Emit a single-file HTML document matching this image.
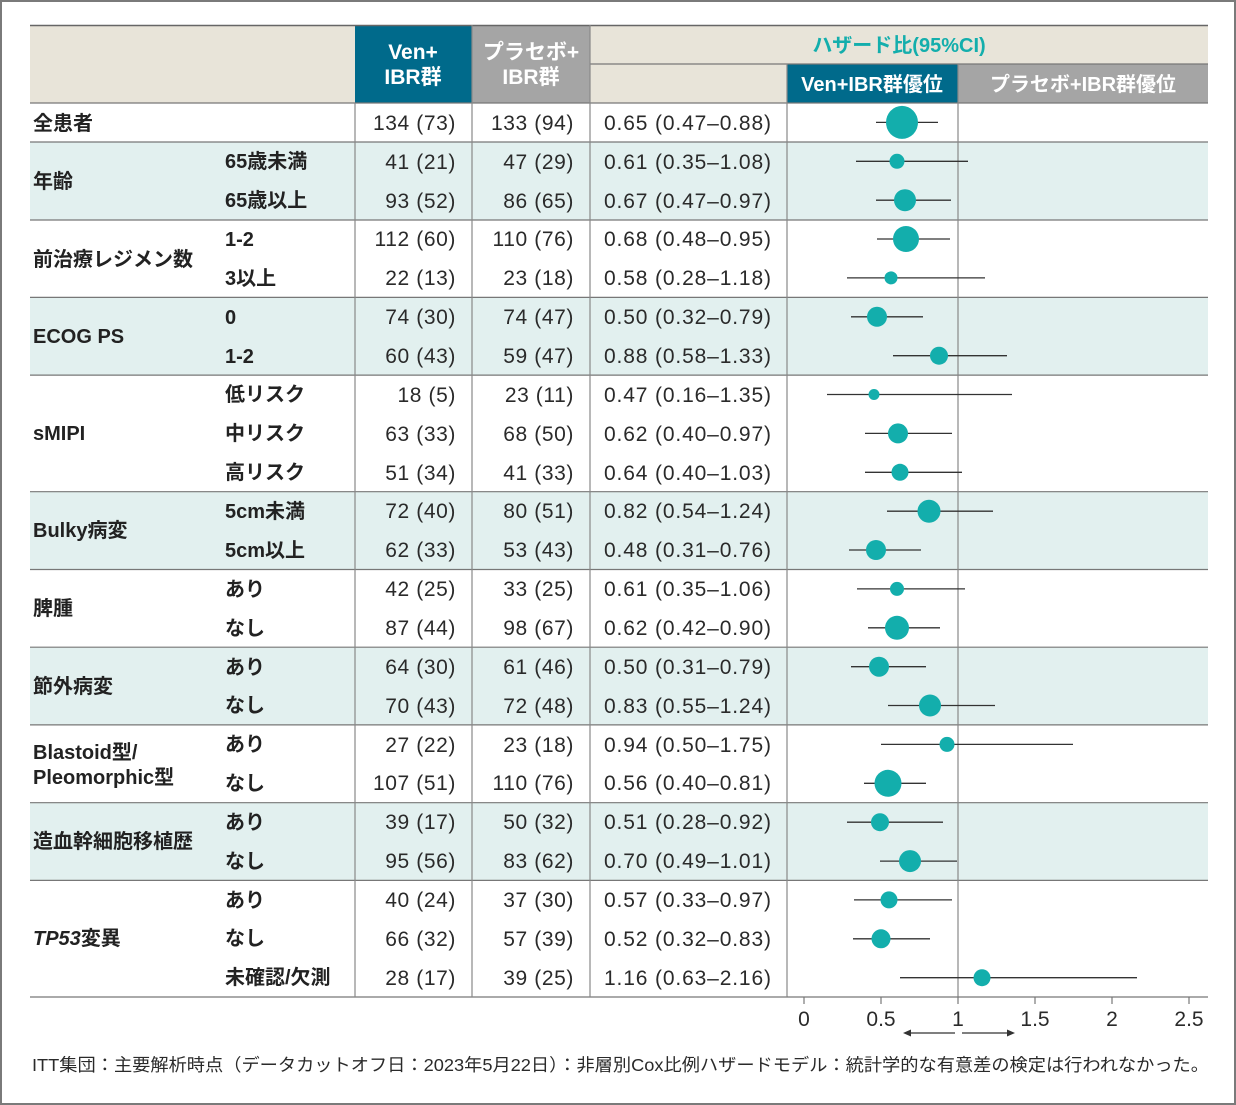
<!DOCTYPE html>
<html><head><meta charset="utf-8"><style>
html,body{margin:0;padding:0;background:#fff}
svg{display:block}
text{font-family:"Liberation Sans","Noto Sans CJK JP",sans-serif;fill:#2a2a2a}
.n{font-size:21px;text-anchor:end;letter-spacing:0.6px}
.h{font-size:21px}
.g{font-size:20px;font-weight:bold;fill:#222}
.s{font-size:20px;font-weight:bold;fill:#222}
.ci{stroke:#333;stroke-width:1.3}
.d{fill:#13aeac}
</style></head><body>
<svg width="1236" height="1105" viewBox="0 0 1236 1105" xmlns="http://www.w3.org/2000/svg">
<rect x="1" y="1" width="1234" height="1103" fill="#fff" stroke="#7a7a7a" stroke-width="2"/>
<g fill="#e2f0ef">
<rect x="30" y="142" width="1178" height="78"/>
<rect x="30" y="297.4" width="1178" height="77.7"/>
<rect x="30" y="491.7" width="1178" height="77.8"/>
<rect x="30" y="647.2" width="1178" height="77.7"/>
<rect x="30" y="802.7" width="1178" height="77.7"/>
</g>
<rect x="30" y="25" width="1178" height="78" fill="#e8e4d9"/>
<rect x="355" y="25" width="117" height="78" fill="#006a8b"/>
<rect x="472" y="25" width="118" height="78" fill="#a5a5a5"/>
<rect x="787" y="64" width="171" height="39" fill="#006a8b"/>
<rect x="958" y="64" width="250" height="39" fill="#a5a5a5"/>
<line x1="30" y1="25.5" x2="1208" y2="25.5" stroke="#666" stroke-width="1.5"/>
<line x1="590" y1="64" x2="1208" y2="64" stroke="#777" stroke-width="1.2"/>
<text x="413" y="59" font-size="21" style="fill:#fff;font-weight:bold" text-anchor="middle">Ven+</text>
<text x="413" y="84" font-size="21" style="fill:#fff;font-weight:bold" text-anchor="middle">IBR群</text>
<text x="531" y="59" font-size="21" style="fill:#fff;font-weight:bold" text-anchor="middle">プラセボ+</text>
<text x="531" y="84" font-size="21" style="fill:#fff;font-weight:bold" text-anchor="middle">IBR群</text>
<text x="899" y="52" font-size="20" style="fill:#13aeac;font-weight:bold" text-anchor="middle">ハザード比(95%CI)</text>
<text x="872" y="91" font-size="20" style="fill:#fff;font-weight:bold" text-anchor="middle">Ven+IBR群優位</text>
<text x="1083" y="91" font-size="20" style="fill:#fff;font-weight:bold" text-anchor="middle">プラセボ+IBR群優位</text>
<g stroke="#777" stroke-width="1.2">
<line x1="30" y1="103" x2="1208" y2="103"/>
<line x1="30" y1="142" x2="1208" y2="142"/>
<line x1="30" y1="220" x2="1208" y2="220"/>
<line x1="30" y1="297.4" x2="1208" y2="297.4"/>
<line x1="30" y1="375.1" x2="1208" y2="375.1"/>
<line x1="30" y1="491.7" x2="1208" y2="491.7"/>
<line x1="30" y1="569.5" x2="1208" y2="569.5"/>
<line x1="30" y1="647.2" x2="1208" y2="647.2"/>
<line x1="30" y1="724.9" x2="1208" y2="724.9"/>
<line x1="30" y1="802.7" x2="1208" y2="802.7"/>
<line x1="30" y1="880.4" x2="1208" y2="880.4"/>
<line x1="30" y1="997" x2="787" y2="997"/>
</g>
<g stroke="#888" stroke-width="1.2">
<line x1="355" y1="103" x2="355" y2="997"/>
<line x1="472" y1="25" x2="472" y2="997"/>
<line x1="590" y1="25" x2="590" y2="997"/>
<line x1="787" y1="64" x2="787" y2="997"/>
<line x1="958" y1="64" x2="958" y2="997"/>
</g>
<line x1="787" y1="997" x2="1208" y2="997" stroke="#777" stroke-width="1.2"/>
<g stroke="#777" stroke-width="1.2">
<line x1="804" y1="997" x2="804" y2="1004"/><line x1="881" y1="997" x2="881" y2="1004"/>
<line x1="958" y1="997" x2="958" y2="1004"/><line x1="1035" y1="997" x2="1035" y2="1004"/>
<line x1="1112" y1="997" x2="1112" y2="1004"/><line x1="1189" y1="997" x2="1189" y2="1004"/>
</g>
<g font-size="21" text-anchor="middle">
<text x="804" y="1026">0</text><text x="881" y="1026">0.5</text><text x="958" y="1026">1</text>
<text x="1035" y="1026">1.5</text><text x="1112" y="1026">2</text><text x="1189" y="1026">2.5</text>
</g>
<g stroke="#333" stroke-width="1.2">
<line x1="908" y1="1033" x2="955" y2="1033"/><line x1="962" y1="1033" x2="1010" y2="1033"/>
</g>
<polygon points="903,1033 911,1029.5 911,1036.5" fill="#333"/>
<polygon points="1015,1033 1007,1029.5 1007,1036.5" fill="#333"/>
<text x="32" y="1071" font-size="17.5" textLength="1177" lengthAdjust="spacingAndGlyphs">ITT集団：主要解析時点（データカットオフ日：2023年5月22日）：非層別Cox比例ハザードモデル：統計学的な有意差の検定は行われなかった。</text>
<text class="g" x="33" y="130">全患者</text>
<text class="g" x="33" y="188">年齢</text>
<text class="g" x="33" y="266">前治療レジメン数</text>
<text class="g" x="33" y="343">ECOG PS</text>
<text class="g" x="33" y="440">sMIPI</text>
<text class="g" x="33" y="537">Bulky病変</text>
<text class="g" x="33" y="615">脾腫</text>
<text class="g" x="33" y="693">節外病変</text>
<text class="g" x="33" y="759">Blastoid型/</text>
<text class="g" x="33" y="784">Pleomorphic型</text>
<text class="g" x="33" y="848">造血幹細胞移植歴</text>
<text class="g" x="33" y="945"><tspan font-style="italic">TP53</tspan>変異</text>
<g>
<text class="s" x="225" y="168">65歳未満</text><text class="s" x="225" y="207">65歳以上</text>
<text class="s" x="225" y="246">1-2</text><text class="s" x="225" y="285">3以上</text>
<text class="s" x="225" y="324">0</text><text class="s" x="225" y="363">1-2</text>
<text class="s" x="225" y="401">低リスク</text><text class="s" x="225" y="440">中リスク</text><text class="s" x="225" y="479">高リスク</text>
<text class="s" x="225" y="518">5cm未満</text><text class="s" x="225" y="557">5cm以上</text>
<text class="s" x="225" y="596">あり</text><text class="s" x="225" y="635">なし</text>
<text class="s" x="225" y="674">あり</text><text class="s" x="225" y="712">なし</text>
<text class="s" x="225" y="751">あり</text><text class="s" x="225" y="790">なし</text>
<text class="s" x="225" y="829">あり</text><text class="s" x="225" y="868">なし</text>
<text class="s" x="225" y="907">あり</text><text class="s" x="225" y="945">なし</text><text class="s" x="225" y="984">未確認/欠測</text>
</g>
<g>
<text class="n" x="456" y="130">134 (73)</text><text class="n" x="574" y="130">133 (94)</text>
<text class="n" x="456" y="169">41 (21)</text><text class="n" x="574" y="169">47 (29)</text>
<text class="n" x="456" y="208">93 (52)</text><text class="n" x="574" y="208">86 (65)</text>
<text class="n" x="456" y="246">112 (60)</text><text class="n" x="574" y="246">110 (76)</text>
<text class="n" x="456" y="285">22 (13)</text><text class="n" x="574" y="285">23 (18)</text>
<text class="n" x="456" y="324">74 (30)</text><text class="n" x="574" y="324">74 (47)</text>
<text class="n" x="456" y="363">60 (43)</text><text class="n" x="574" y="363">59 (47)</text>
<text class="n" x="456" y="402">18 (5)</text><text class="n" x="574" y="402">23 (11)</text>
<text class="n" x="456" y="441">63 (33)</text><text class="n" x="574" y="441">68 (50)</text>
<text class="n" x="456" y="480">51 (34)</text><text class="n" x="574" y="480">41 (33)</text>
<text class="n" x="456" y="518">72 (40)</text><text class="n" x="574" y="518">80 (51)</text>
<text class="n" x="456" y="557">62 (33)</text><text class="n" x="574" y="557">53 (43)</text>
<text class="n" x="456" y="596">42 (25)</text><text class="n" x="574" y="596">33 (25)</text>
<text class="n" x="456" y="635">87 (44)</text><text class="n" x="574" y="635">98 (67)</text>
<text class="n" x="456" y="674">64 (30)</text><text class="n" x="574" y="674">61 (46)</text>
<text class="n" x="456" y="713">70 (43)</text><text class="n" x="574" y="713">72 (48)</text>
<text class="n" x="456" y="752">27 (22)</text><text class="n" x="574" y="752">23 (18)</text>
<text class="n" x="456" y="790">107 (51)</text><text class="n" x="574" y="790">110 (76)</text>
<text class="n" x="456" y="829">39 (17)</text><text class="n" x="574" y="829">50 (32)</text>
<text class="n" x="456" y="868">95 (56)</text><text class="n" x="574" y="868">83 (62)</text>
<text class="n" x="456" y="907">40 (24)</text><text class="n" x="574" y="907">37 (30)</text>
<text class="n" x="456" y="946">66 (32)</text><text class="n" x="574" y="946">57 (39)</text>
<text class="n" x="456" y="985">28 (17)</text><text class="n" x="574" y="985">39 (25)</text>
</g>
<g>
<text class="h" x="604" y="130" textLength="167">0.65 (0.47–0.88)</text>
<text class="h" x="604" y="169" textLength="167">0.61 (0.35–1.08)</text>
<text class="h" x="604" y="208" textLength="167">0.67 (0.47–0.97)</text>
<text class="h" x="604" y="246" textLength="167">0.68 (0.48–0.95)</text>
<text class="h" x="604" y="285" textLength="167">0.58 (0.28–1.18)</text>
<text class="h" x="604" y="324" textLength="167">0.50 (0.32–0.79)</text>
<text class="h" x="604" y="363" textLength="167">0.88 (0.58–1.33)</text>
<text class="h" x="604" y="402" textLength="167">0.47 (0.16–1.35)</text>
<text class="h" x="604" y="441" textLength="167">0.62 (0.40–0.97)</text>
<text class="h" x="604" y="480" textLength="167">0.64 (0.40–1.03)</text>
<text class="h" x="604" y="518" textLength="167">0.82 (0.54–1.24)</text>
<text class="h" x="604" y="557" textLength="167">0.48 (0.31–0.76)</text>
<text class="h" x="604" y="596" textLength="167">0.61 (0.35–1.06)</text>
<text class="h" x="604" y="635" textLength="167">0.62 (0.42–0.90)</text>
<text class="h" x="604" y="674" textLength="167">0.50 (0.31–0.79)</text>
<text class="h" x="604" y="713" textLength="167">0.83 (0.55–1.24)</text>
<text class="h" x="604" y="752" textLength="167">0.94 (0.50–1.75)</text>
<text class="h" x="604" y="790" textLength="167">0.56 (0.40–0.81)</text>
<text class="h" x="604" y="829" textLength="167">0.51 (0.28–0.92)</text>
<text class="h" x="604" y="868" textLength="167">0.70 (0.49–1.01)</text>
<text class="h" x="604" y="907" textLength="167">0.57 (0.33–0.97)</text>
<text class="h" x="604" y="946" textLength="167">0.52 (0.32–0.83)</text>
<text class="h" x="604" y="985" textLength="167">1.16 (0.63–2.16)</text>
</g>
<g class="ci">
<line x1="876" y1="122.4" x2="938" y2="122.4"/>
<line x1="856" y1="161.3" x2="968" y2="161.3"/>
<line x1="876" y1="200.2" x2="951" y2="200.2"/>
<line x1="877" y1="239" x2="950" y2="239"/>
<line x1="847" y1="277.9" x2="985" y2="277.9"/>
<line x1="851" y1="316.8" x2="923" y2="316.8"/>
<line x1="893" y1="355.7" x2="1007" y2="355.7"/>
<line x1="827" y1="394.5" x2="1012" y2="394.5"/>
<line x1="865" y1="433.4" x2="952" y2="433.4"/>
<line x1="865" y1="472.3" x2="962" y2="472.3"/>
<line x1="887" y1="511.2" x2="993" y2="511.2"/>
<line x1="849" y1="550" x2="921" y2="550"/>
<line x1="857" y1="588.9" x2="965" y2="588.9"/>
<line x1="868" y1="627.8" x2="940" y2="627.8"/>
<line x1="851" y1="666.7" x2="926" y2="666.7"/>
<line x1="888" y1="705.5" x2="995" y2="705.5"/>
<line x1="881" y1="744.4" x2="1073" y2="744.4"/>
<line x1="864" y1="783.3" x2="926" y2="783.3"/>
<line x1="847" y1="822.2" x2="943" y2="822.2"/>
<line x1="880" y1="861.1" x2="957" y2="861.1"/>
<line x1="854" y1="899.9" x2="952" y2="899.9"/>
<line x1="853" y1="938.8" x2="930" y2="938.8"/>
<line x1="900" y1="977.7" x2="1137" y2="977.7"/>
</g>
<g class="d">
<ellipse cx="902" cy="122.4" rx="16" ry="16.5"/>
<circle cx="897" cy="161.3" r="7.5"/>
<circle cx="905" cy="200.2" r="11"/>
<circle cx="906" cy="239" r="13"/>
<circle cx="891" cy="277.9" r="6.5"/>
<circle cx="877" cy="316.8" r="10"/>
<circle cx="939" cy="355.7" r="9"/>
<circle cx="874" cy="394.5" r="5.5"/>
<circle cx="898" cy="433.4" r="10"/>
<circle cx="900" cy="472.3" r="8.5"/>
<circle cx="929" cy="511.2" r="11.5"/>
<circle cx="876" cy="550" r="10"/>
<circle cx="897" cy="588.9" r="7"/>
<circle cx="897" cy="627.8" r="12"/>
<circle cx="879" cy="666.7" r="10"/>
<circle cx="930" cy="705.5" r="11"/>
<circle cx="947" cy="744.4" r="7.5"/>
<circle cx="888" cy="783.3" r="13.5"/>
<circle cx="880" cy="822.2" r="9"/>
<circle cx="910" cy="861.1" r="11"/>
<circle cx="889" cy="899.9" r="8.5"/>
<circle cx="881" cy="938.8" r="9.5"/>
<circle cx="982" cy="977.7" r="8.5"/>
</g>
</svg>
</body></html>
